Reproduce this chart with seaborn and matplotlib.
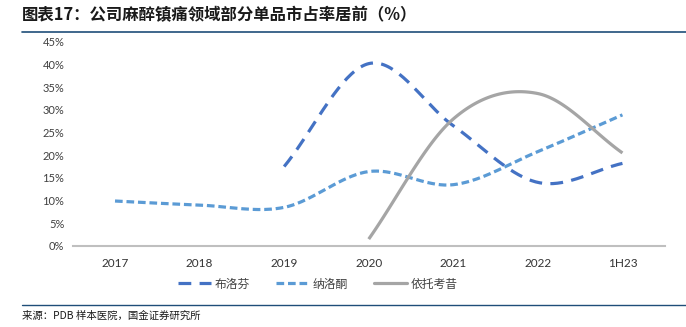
import numpy as np
import pandas as pd
import matplotlib
matplotlib.use("Agg")
import matplotlib.pyplot as plt
import seaborn as sns
from matplotlib.lines import Line2D

categories = ["2017", "2018", "2019", "2020", "2021", "2022", "1H23"]
ibuprofen = [None, None, 17.5, 40.2, 26.5, 14.0, 18.2]
naloxone = [9.9, 9.0, 8.5, 16.4, 13.5, 20.8, 28.9]
etoricoxib = [None, None, None, 1.5, 28.0, 33.6, 20.5]
series_names = ["布洛芬", "纳洛酮", "依托考昔"]
yticks = [0, 5, 10, 15, 20, 25, 30, 35, 40, 45]

sns.set_theme(style="white")
plt.rcParams["font.family"] = ["Noto Sans CJK SC", "DejaVu Sans"]


def smooth(xs, ys, n=40):
    """Catmull-Rom curve through the points (spreadsheet-style smoothed line)."""
    pts = np.column_stack([xs, ys]).astype(float)
    if len(pts) < 3:
        return pts[:, 0], pts[:, 1]
    ext = np.vstack([2 * pts[0] - pts[1], pts, 2 * pts[-1] - pts[-2]])
    out = []
    for i in range(1, len(ext) - 2):
        p0, p1, p2, p3 = ext[i - 1], ext[i], ext[i + 1], ext[i + 2]
        c1 = p1 + (p2 - p0) / 6.0
        c2 = p2 - (p3 - p1) / 6.0
        t = np.linspace(0, 1, n)[:, None]
        seg = ((1 - t) ** 3) * p1 + 3 * ((1 - t) ** 2) * t * c1 + 3 * (1 - t) * t ** 2 * c2 + t ** 3 * p2
        out.append(seg if i == 1 else seg[1:])
    arr = np.vstack(out)
    return arr[:, 0], arr[:, 1]


fig = plt.figure(figsize=(6.86, 3.27), dpi=100)
ax = fig.add_axes([0.106, 0.248, 0.863, 0.624])

styles = [
    dict(color="#4472C4", dashes=(4.0, 2.6), lw=2.3),
    dict(color="#5B9BD5", dashes=(2.4, 1.2), lw=2.3),
    dict(color="#A5A5A5", dashes=None, lw=2.3),
]

handles = []
for name, vals, st in zip(series_names, [ibuprofen, naloxone, etoricoxib], styles):
    xs = [i for i, v in enumerate(vals) if v is not None]
    ys = [v for v in vals if v is not None]
    sx, sy = smooth(xs, ys)
    df = pd.DataFrame({"x": sx, "y": sy})
    sns.lineplot(data=df, x="x", y="y", ax=ax, color=st["color"], lw=st["lw"],
                 sort=False, estimator=None)
    line = ax.lines[-1]
    line.set_solid_capstyle("butt")
    if st["dashes"] is not None:
        line.set_dashes(st["dashes"])
        line.set_dash_capstyle("butt")
    h = Line2D([], [], color=st["color"], lw=st["lw"])
    if st["dashes"] is not None:
        h.set_dashes(st["dashes"])
    handles.append(h)

ax.set_xlim(-0.5, len(categories) - 0.5)
ax.set_ylim(0, 45)
ax.set_xticks(range(len(categories)))
ax.set_xticklabels(categories, fontsize=8.5, color="#333333", family=["Lato", "DejaVu Sans"])
ax.set_yticks(yticks)
ax.set_yticklabels([f"{v}%" for v in yticks], fontsize=8, color="#404040", family=["Lato", "DejaVu Sans"])
ax.set_xlabel("")
ax.set_ylabel("")
ax.tick_params(axis="both", length=0)
ax.tick_params(axis="x", pad=9)
ax.tick_params(axis="y", pad=6)
for s in ["top", "right", "left"]:
    ax.spines[s].set_visible(False)
ax.spines["bottom"].set_color("#BFBFBF")
ax.spines["bottom"].set_linewidth(1.5)
ax.grid(False)

ax.legend(handles, series_names, loc="upper left", bbox_to_anchor=(0.17, -0.132),
          ncol=3, frameon=False, fontsize=8.5, handlelength=2.8, handletextpad=0.3,
          columnspacing=2.2, labelcolor="#404040", borderaxespad=0)

fig.text(0.032, 0.955, "图表17：公司麻醉镇痛领域部分单品市占率居前（%）",
         fontsize=11.8, fontweight="bold", color="#1a1a1a", va="center", ha="left")
fig.add_artist(Line2D([0.032, 1.0], [0.902, 0.902], color="#1F4E79", lw=1.2,
                      transform=fig.transFigure))
fig.add_artist(Line2D([0.032, 1.0], [0.067, 0.067], color="#1F4E79", lw=1.0,
                      transform=fig.transFigure))
fig.text(0.032, 0.033, "来源：PDB 样本医院，国金证券研究所", fontsize=7.5,
         color="#1a1a1a", va="center", ha="left")

fig.savefig("out.png", dpi=100)
